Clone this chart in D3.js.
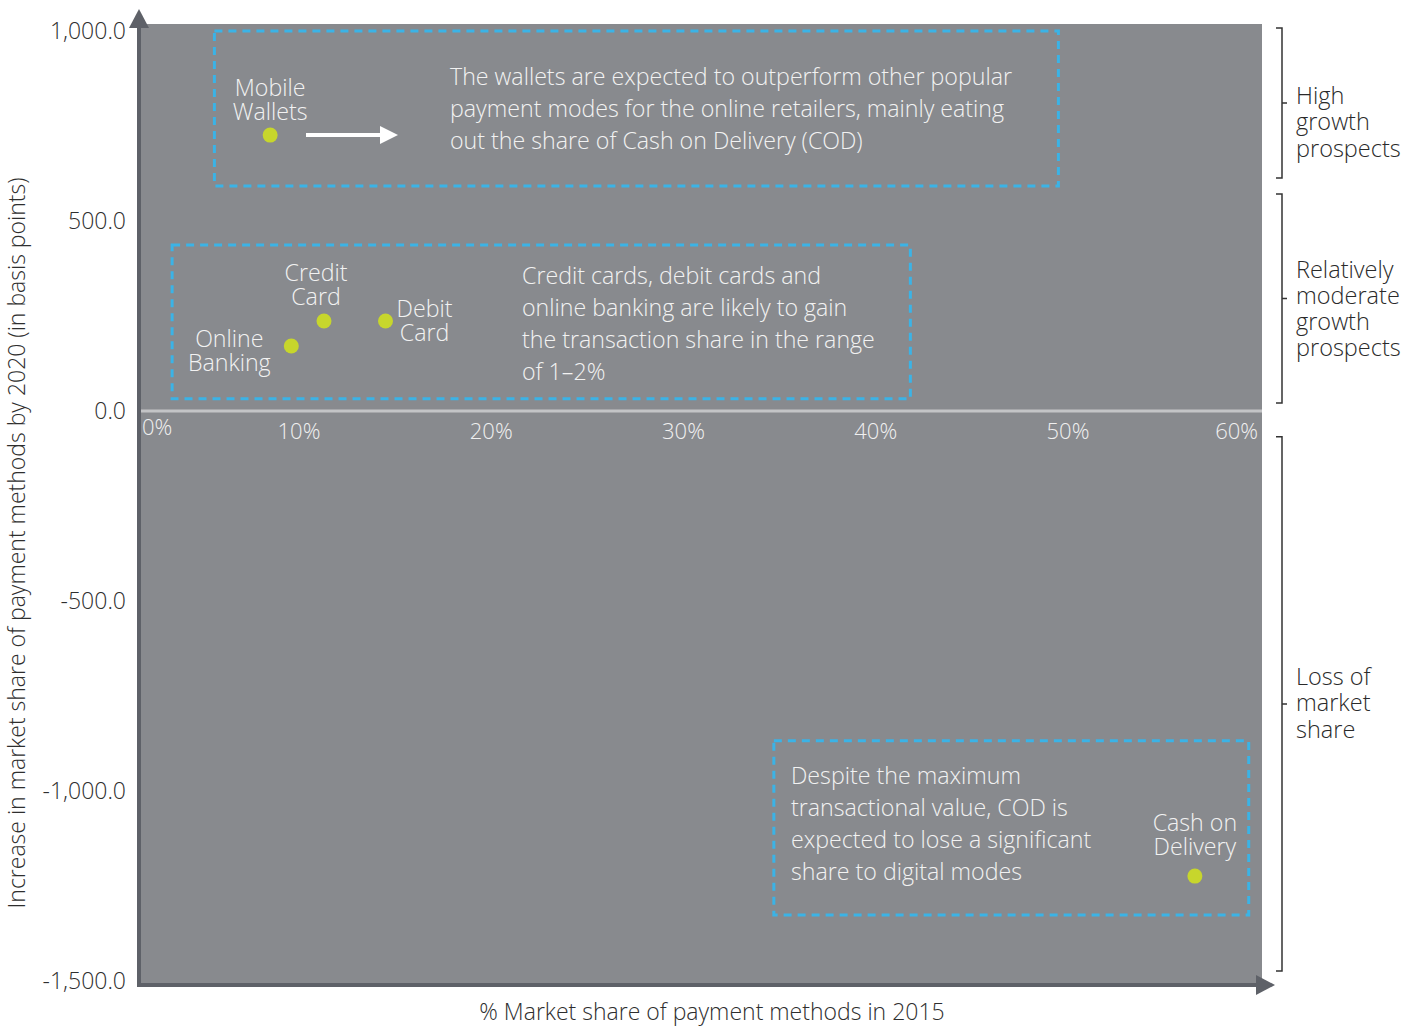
<!DOCTYPE html>
<html>
<head>
<meta charset="utf-8">
<script src="https://cdn.jsdelivr.net/npm/d3@7"></script>
<style>
  body { margin: 0; background: #fff; }
  svg text { font-family: "Open Sans", "Noto Sans", sans-serif; font-weight: 300; }
</style>
</head>
<body>
<div id="chart"></div>
<script>
// payment methods, share in 2015 (%) and change by 2020 (bps)
var methods = ["Mobile Wallets", "Credit Card", "Debit Card", "Online Banking", "Cash on Delivery"];
var share2015 = [8.5, 11.3, 14.5, 9.6, 56.6];
var bpsChange = [726, 237, 237, 171, -1224];

var xTicks = [0, 10, 20, 30, 40, 50, 60];
var yTicks = [1000, 500, 0, -500, -1000, -1500];

// annotation boxes in data units [x0, x1, y0, y1]
var boxes = [
    [5.6, 49.5, 592, 1000],
    [3.4, 41.8, 32, 437],
    [34.7, 59.4, -1326, -868]
];
var boxTexts = [
    ["The wallets are expected to outperform other popular",
     "payment modes for the online retailers, mainly eating",
     "out the share of Cash on Delivery (COD)"],
    ["Credit cards, debit cards and",
     "online banking are likely to gain",
     "the transaction share in the range",
     "of 1\u20132%"],
    ["Despite the maximum",
     "transactional value, COD is",
     "expected to lose a significant",
     "share to digital modes"]
];

// right-side brackets in data units [top, bottom]
var brackets = [[1008, 613], [571, 21], [-68, -1474]];
var bracketLabels = [
    ["High", "growth", "prospects"],
    ["Relatively", "moderate", "growth", "prospects"],
    ["Loss of", "market", "share"]
];

var width = 1419, height = 1026;
var frame = { left: 139, right: 1262, top: 24, bottom: 985 };

var x = d3.scaleLinear().domain([0, 60]).range([106.75, 1260.25]);
var y = d3.scaleLinear().domain([-1500, 1000]).range([981, 31]);

var svg = d3.select("#chart").append("svg")
    .attr("width", width)
    .attr("height", height);

// plot background
svg.append("rect")
    .attr("x", frame.left)
    .attr("y", frame.top)
    .attr("width", frame.right - frame.left)
    .attr("height", frame.bottom - frame.top)
    .attr("fill", "#888a8e");

// zero line
svg.append("line")
    .attr("x1", frame.left + 2).attr("x2", frame.right)
    .attr("y1", y(0)).attr("y2", y(0))
    .attr("stroke", "#c3c4c6")
    .attr("stroke-width", 3);

// axis lines with arrow heads
var axisColor = "#5e6168";
svg.append("line")
    .attr("x1", frame.left).attr("x2", frame.left)
    .attr("y1", frame.bottom + 2).attr("y2", 26)
    .attr("stroke", axisColor).attr("stroke-width", 4);
svg.append("path")
    .attr("d", "M" + (frame.left - 10) + ",28L" + frame.left + ",9L" + (frame.left + 10) + ",28Z")
    .attr("fill", axisColor);
svg.append("line")
    .attr("x1", frame.left - 2).attr("x2", 1258)
    .attr("y1", frame.bottom).attr("y2", frame.bottom)
    .attr("stroke", axisColor).attr("stroke-width", 4);
svg.append("path")
    .attr("d", "M1256," + (frame.bottom - 10) + "L1275," + frame.bottom + "L1256," + (frame.bottom + 10) + "Z")
    .attr("fill", axisColor);

// y tick labels
svg.selectAll("text.ytick")
    .data(yTicks)
    .enter().append("text")
    .attr("class", "ytick")
    .attr("x", 126)
    .attr("y", function (d) { return y(d); })
    .attr("dy", "0.35em")
    .attr("text-anchor", "end")
    .attr("font-size", 23)
    .attr("fill", "#2e2e2e")
    .text(function (d) { return d3.format(",.1f")(d).replace("\u2212", "-"); });

// x tick labels (inside the plot, under the zero line)
svg.selectAll("text.xtick")
    .data(xTicks)
    .enter().append("text")
    .attr("class", "xtick")
    .attr("x", function (d) {
        if (d == 0) return frame.left + 3;
        if (d == 60) return 1258;
        return x(d);
    })
    .attr("y", function (d) { return d == 0 ? y(0) + 24 : y(0) + 28; })
    .attr("text-anchor", function (d) {
        return d == 0 ? "start" : (d == 60 ? "end" : "middle");
    })
    .attr("font-size", 22)
    .attr("fill", "#f0f0f0")
    .text(function (d) { return d + "%"; });

// axis titles
svg.append("text")
    .attr("transform", "translate(25," + 543 + ") rotate(-90)")
    .attr("text-anchor", "middle")
    .attr("font-size", 23)
    .attr("fill", "#2e2e2e")
    .text("Increase in market share of payment methods by 2020 (in basis points)");
svg.append("text")
    .attr("x", 712)
    .attr("y", 1020)
    .attr("text-anchor", "middle")
    .attr("font-size", 23)
    .attr("fill", "#2e2e2e")
    .text("% Market share of payment methods in 2015");

// dashed annotation boxes
svg.selectAll("rect.box")
    .data(boxes)
    .enter().append("rect")
    .attr("class", "box")
    .attr("x", function (d) { return x(d[0]); })
    .attr("y", function (d) { return y(d[3]); })
    .attr("width", function (d) { return x(d[1]) - x(d[0]); })
    .attr("height", function (d) { return y(d[2]) - y(d[3]); })
    .attr("fill", "none")
    .attr("stroke", "#3bb3e6")
    .attr("stroke-width", 3)
    .attr("stroke-dasharray", "8,6");

var boxTextPos = [
    { x: 450, y: 85 },
    { x: 522, y: 284 },
    { x: 791, y: 784 }
];
boxTexts.forEach(function (lines, i) {
    var t = svg.append("text")
        .attr("x", boxTextPos[i].x)
        .attr("y", boxTextPos[i].y)
        .attr("font-size", 23.2)
        .attr("fill", "#f2f2f2");
    lines.forEach(function (l, j) {
        t.append("tspan").attr("x", boxTextPos[i].x).attr("dy", j == 0 ? 0 : 32).text(l);
    });
});

// white arrow next to mobile wallets
svg.append("line")
    .attr("x1", 306).attr("x2", 384)
    .attr("y1", 135).attr("y2", 135)
    .attr("stroke", "#fff").attr("stroke-width", 4);
svg.append("path")
    .attr("d", "M380,126L398,135L380,144Z")
    .attr("fill", "#fff");

// points
var pts = methods.map(function (m, i) {
    return { name: m, share: share2015[i], change: bpsChange[i] };
});
svg.selectAll("circle.pt")
    .data(pts)
    .enter().append("circle")
    .attr("class", "pt")
    .attr("cx", function (d) { return x(d.share); })
    .attr("cy", function (d) { return y(d.change); })
    .attr("r", 7.5)
    .attr("fill", "#c7d62c");

// point labels: offset from the point, anchor
var labelLayout = [
    { dx: 0, dy: -39, anchor: "middle", lines: ["Mobile", "Wallets"] },
    { dx: -8, dy: -40, anchor: "middle", lines: ["Credit", "Card"] },
    { dx: 39, dy: -4, anchor: "middle", lines: ["Debit", "Card"] },
    { dx: -62, dy: 1, anchor: "middle", lines: ["Online", "Banking"] },
    { dx: 0, dy: -45, anchor: "middle", lines: ["Cash on", "Delivery"] }
];
pts.forEach(function (d, i) {
    var L = labelLayout[i];
    var px = x(d.share) + L.dx;
    var t = svg.append("text")
        .attr("x", px)
        .attr("y", y(d.change) + L.dy)
        .attr("text-anchor", L.anchor)
        .attr("font-size", 23.2)
        .attr("fill", "#f2f2f2");
    L.lines.forEach(function (l, j) {
        t.append("tspan").attr("x", px).attr("dy", j == 0 ? 0 : 24).text(l);
    });
});

// brackets on the right
var bx = 1282;
svg.selectAll("path.bracket")
    .data(brackets)
    .enter().append("path")
    .attr("class", "bracket")
    .attr("d", function (d) {
        var t = y(d[0]), b = y(d[1]), m = (t + b) / 2;
        return "M" + (bx - 6) + "," + t + "H" + bx + "V" + b + "H" + (bx - 6) +
            "M" + bx + "," + m + "H" + (bx + 5);
    })
    .attr("fill", "none")
    .attr("stroke", "#333")
    .attr("stroke-width", 1.5);

// first baseline of each bracket label relative to the bracket's middle
var bracketLabelShift = [1, -21, -19];
brackets.forEach(function (d, i) {
    var lines = bracketLabels[i];
    var m = (y(d[0]) + y(d[1])) / 2;
    var lh = 26.3;
    var t = svg.append("text")
        .attr("x", 1296)
        .attr("y", m + bracketLabelShift[i])
        .attr("font-size", 23.5)
        .attr("fill", "#2a2a2a");
    lines.forEach(function (l, j) {
        t.append("tspan").attr("x", 1296).attr("dy", j == 0 ? 0 : lh).text(l);
    });
});
</script>
</body>
</html>
